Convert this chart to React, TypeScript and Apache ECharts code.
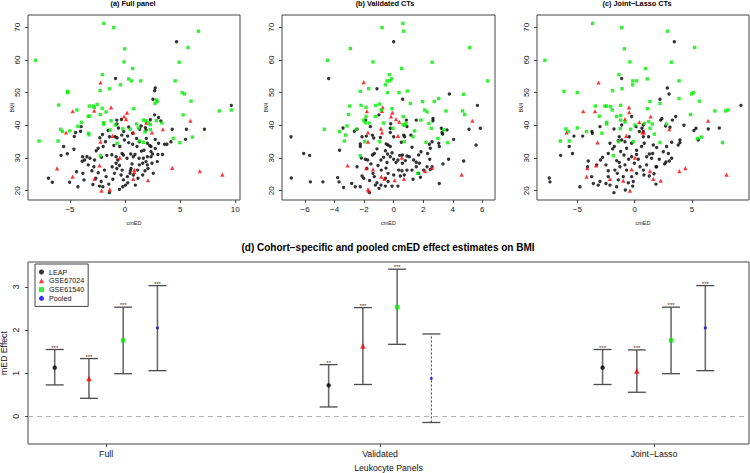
import React, { useEffect, useRef } from "react";
import * as echarts from "echarts";

// ---------- Scatter data: [cmED, BMI] ----------
const fullLeap: number[][] = [[4.67,65.6],[-0.87,54.3],[9.64,46.1],[2.74,51.4],[2.68,50.6],[2.53,48.0],[2.68,43.2],[3.04,42.4],[3.25,41.3],[2.29,41.7],[1.84,39.3],[1.45,39.8],[1.33,38.8],[7.2,38.8],[5.57,38.8],[4.28,38.8],[-0.75,41.6],[-0.75,40.4],[-0.33,41.8],[-0.6,39.2],[-0.12,38.1],[0.33,39.5],[1.9,38.6],[-3.98,39.6],[-4.04,38.2],[-4.49,37.8],[-4.61,36.6],[-5.57,33.5],[-5.81,30.8],[-5.24,31.3],[-4.64,32.7],[-1.54,38.4],[-1.42,36.5],[-0.9,36.5],[-0.72,36.2],[-0.3,37.0],[0.24,36.7],[0.69,37.6],[1.05,36.0],[1.3,35.0],[2.02,34.5],[2.23,33.8],[2.35,33.5],[3.04,34.5],[3.58,34.2],[3.8,34.2],[4.16,35.0],[5.48,35.7],[2.74,35.7],[1.93,36.0],[-2.29,36.2],[-2.05,37.2],[-1.99,33.5],[-2.44,33.0],[-2.62,32.2],[-3.86,30.4],[-3.67,29.4],[-3.89,29.0],[-3.46,30.4],[-3.19,29.9],[-2.77,29.4],[-2.14,30.2],[-1.66,30.8],[-1.2,31.0],[-0.81,30.4],[-0.66,29.4],[-0.27,31.4],[-0.15,30.9],[0.18,29.9],[0.51,31.2],[0.75,30.4],[0.9,31.1],[1.27,29.9],[1.66,29.9],[1.9,28.9],[2.02,30.4],[2.35,30.4],[2.5,31.2],[2.98,31.1],[2.92,28.9],[2.44,28.4],[2.02,27.9],[2.35,32.0],[2.74,32.9],[3.4,31.1],[1.48,32.1],[1.72,32.4],[1.08,33.5],[0.69,34.2],[0.33,34.7],[-0.06,35.5],[-0.48,33.5],[-1.02,33.8],[-1.78,35.0],[-2.83,27.3],[-3.01,26.1],[-3.34,27.9],[-3.83,25.3],[-3.73,23.3],[-4.4,25.8],[-4.28,21.2],[-5.03,22.6],[-6.6,22.6],[-6.96,23.8],[-2.92,21.9],[-2.65,23.8],[-2.44,25.5],[-1.87,26.3],[-1.72,24.3],[-2.17,22.8],[-2.32,21.4],[-2.02,21.2],[-1.42,19.4],[-1.48,22.0],[-1.11,23.5],[-0.96,25.3],[-0.75,26.8],[-0.81,28.4],[-1.17,27.3],[-0.51,27.7],[-0.27,26.3],[-0.36,24.8],[-0.15,23.3],[0.03,21.7],[-0.21,21.2],[0.24,22.4],[0.21,24.3],[0.45,25.3],[0.54,26.8],[0.63,28.2],[-0.51,20.4],[0.93,21.7],[1.17,23.8],[1.6,24.8],[1.81,26.1],[1.14,26.3],[1.3,27.9],[1.6,28.4],[2.56,25.3],[2.08,26.8],[0.48,26.1],[0.75,24.8]];
const fullGse67024: number[][] = [[-2.23,53.1],[-4.76,44.3],[-1.27,45.5],[-2.8,44.5],[0.18,43.9],[-0.09,42.7],[0.09,41.9],[1.93,40.8],[5.93,41.4],[-5.36,37.8],[-1.14,36.8],[0.75,37.8],[2.44,37.8],[3.43,38.8],[-2.23,35.0],[-0.48,30.1],[-2.32,27.7],[-6.17,26.8],[0.84,26.4],[0.84,25.7],[4.28,27.0],[6.78,26.0],[8.83,24.9],[-4.76,24.3],[-2.77,23.6],[0.75,23.6],[2.08,23.2],[-1.39,20.4],[-2.14,20.0]];
const fullGse61540: number[][] = [[-1.93,71.2],[-1.02,69.9],[-8.13,59.9],[-0.03,63.4],[-0.09,59.4],[0.69,57.4],[5.72,63.8],[6.66,68.8],[-2.05,55.5],[4.91,59.3],[0.33,54.2],[0.57,53.6],[1.42,53.6],[4.55,53.6],[-0.42,52.4],[-1.42,51.2],[-2.26,50.6],[-5.21,50.4],[-5.21,50.0],[5.18,50.0],[5.39,49.6],[5.99,47.4],[-6.02,46.2],[-2.53,46.4],[-2.86,45.9],[-3.25,45.9],[-2.8,45.5],[-2.08,45.2],[-4.37,44.7],[0.78,45.1],[2.83,47.8],[2.92,47.3],[2.71,46.7],[-2.26,43.3],[-1.72,44.1],[-3.34,42.8],[-3.22,42.8],[-3.95,40.9],[-4.28,39.7],[-5.03,38.3],[-5.84,38.8],[-5.69,38.1],[-3.31,37.6],[-3.28,37.1],[-1.93,40.8],[-1.93,40.4],[-0.9,40.1],[-1.27,41.4],[1.66,41.6],[1.9,41.4],[2.14,40.8],[-0.21,38.9],[0.48,38.8],[1.05,40.4],[1.2,39.2],[1.81,38.0],[2.29,40.2],[2.29,38.7],[3.34,40.7],[2.83,41.4],[-1.36,38.6],[-0.72,34.5],[1.3,35.2],[1.66,34.8],[4.37,36.0],[4.97,34.7],[6.11,36.4],[8.55,44.4],[9.64,44.7],[5.27,43.2],[-7.8,35.2],[-6.08,35.2],[-2.23,30.7]];

const valLeap: number[][] = [[0,65.6],[-4.4,54.3],[-1.13,51.2],[0.61,48.0],[5.67,46.1],[3.77,49.6],[-6.95,36.5],[-6.09,31.4],[-5.69,30.8],[-6.93,23.9],[-5.64,22.7],[-4.79,22.7],[-3.79,24.0],[-3.7,22.7],[-3.66,32.4],[-3.43,39.2],[-2.66,38.2],[-2.48,38.8],[-2.84,22.2],[-3.39,21.0],[-2.26,21.2],[-2.48,27.3],[-2.19,30.0],[-2.26,33.5],[-2.26,34.3],[-2.14,36.5],[-1.85,36.7],[-1.9,41.6],[-1.58,39.6],[-1.44,37.0],[-1.35,36.1],[-1.76,29.4],[-1.92,29.6],[-1.44,30.9],[-1.54,28.2],[-1.4,25.3],[-1.31,24.3],[-1.24,21.7],[-1.13,22.4],[-0.99,20.7],[-1.63,23.1],[-1.63,19.4],[-0.86,29.4],[-0.68,30.2],[-1.06,27.7],[-0.84,26.3],[-0.52,26.9],[-0.45,28.6],[-0.41,31.2],[-0.56,32.2],[-0.5,34.3],[-0.38,34.0],[-0.23,33.5],[-0.11,31.6],[-0.23,30.4],[0,29.6],[0.16,28.6],[0.29,29.4],[0.41,30.8],[0.59,30.9],[0.59,28.4],[0.79,29.2],[0.9,30.6],[1.24,33.3],[1.06,30.4],[1.35,29.4],[1.53,28.7],[1.69,30.9],[1.85,31.9],[1.74,28.4],[1.53,27.3],[1.24,26.3],[0.9,26.3],[0.56,26.1],[0.34,26.3],[0.72,24.8],[0.45,24.5],[0,24.8],[-0.38,25.3],[-0.56,23.8],[-0.38,22.8],[-0.11,21.4],[-0.56,21.4],[-0.86,21.7],[0.29,21.4],[1.31,23.5],[1.81,24.1],[1.69,25.3],[2.03,26.3],[2.26,27.3],[2.48,26.5],[2.44,29.6],[2.3,31.4],[2.48,33.0],[2.42,34.2],[2.6,35.0],[3.05,34.5],[3.09,33.5],[3.23,39.1],[3.32,37.3],[3.61,38.6],[3.72,29.6],[3.34,28.2],[2.6,27.3],[3.09,22.2],[4.06,35.7],[4.74,29.1],[5.58,34.0],[5.87,39.1],[3.27,37.8],[2.66,42.1],[2.66,41.4],[1.53,41.6],[0.86,41.6],[0.9,39.6],[0.68,37.0],[0.74,36.5],[1.17,37.0],[0.52,34.8],[-0.23,37.8],[0,36.5],[-0.23,39.1],[-0.9,36.3],[-1.13,32.8],[-1.31,31.4],[-1.81,26.8],[-2.14,24.5],[-2.03,23.8],[-2.6,21.2],[5.1,38.8],[-1.0,43.2],[-0.2,40.5]];
const valGse67024: number[][] = [[-2.03,53.2],[-1.81,44.3],[-0.74,45.5],[-0.79,44.4],[-0.09,43.9],[-0.18,42.7],[0.16,41.9],[0.38,41.1],[-0.86,39.0],[-0.79,37.8],[-1.74,37.8],[-1.74,35.0],[5.33,41.4],[0.29,36.8],[-3.12,27.7],[-1.85,26.9],[-1.4,26.5],[2.14,26.0],[2.6,27.0],[4.6,24.9],[-0.84,24.3],[-0.63,23.6],[0.07,23.2],[0.7,23.6],[-1.74,20.4],[-1.69,20.0],[0.56,30.1]];
const valGse61540: number[][] = [[0.63,71.2],[0.68,68.8],[-0.79,69.9],[-2.93,63.5],[5.15,63.8],[-4.47,59.9],[-1.4,59.4],[0.54,57.4],[2.6,59.3],[-0.29,55.5],[-0.45,53.6],[-0.27,53.6],[-0.14,54.2],[-0.56,52.4],[6.37,53.6],[-2.26,50.4],[-1.69,51.2],[0.36,50.0],[0.93,50.5],[-0.41,50.0],[4.74,49.5],[1.96,47.3],[2.75,47.3],[3.05,48.2],[1.13,46.7],[-2.98,45.9],[-2.21,46.1],[-1.22,46.1],[-0.95,46.5],[-1.87,45.5],[-0.11,45.1],[-0.84,44.7],[-3.05,43.3],[2.1,44.7],[2.26,44.1],[3.54,44.4],[4.67,44.4],[4.81,43.3],[-1.87,42.7],[-1.24,42.7],[0.65,42.7],[-2.03,41.6],[-1.92,40.8],[-1.67,40.7],[-0.68,40.7],[-0.05,39.1],[0.65,40.2],[0.74,40.0],[0.84,40.6],[1.85,41.6],[2.39,40.6],[2.55,39.1],[3.39,38.6],[-3.16,39.8],[-3.66,38.1],[-4.7,38.8],[-2.53,38.8],[-3.25,37.0],[-1.96,35.0],[-3.34,35.2],[-2.26,30.7],[-0.95,35.0],[0.72,35.0],[1.42,38.3],[1.31,36.5],[2.19,34.8],[3.0,36.0],[3.66,34.7],[1.63,25.3]];

const jlLeap: number[][] = [[3.46,65.6],[-1.13,54.3],[9.27,46.1],[2.85,51.4],[3.0,49.6],[2.21,48.0],[3.58,42.7],[3.29,41.6],[2.7,39.8],[2.38,42.1],[2.27,41.6],[4.3,40.0],[5.35,39.1],[5.17,38.4],[6.42,38.9],[7.38,39.2],[5.55,35.5],[3.08,39.4],[3.95,35.5],[3.95,34.7],[3.8,34.0],[3.23,34.8],[2.79,33.5],[2.94,31.4],[3.23,29.9],[3.02,29.1],[2.62,28.2],[2.5,31.9],[2.15,29.6],[1.86,27.3],[1.92,33.2],[1.63,34.0],[1.22,36.5],[0.76,36.5],[0.76,40.1],[0.76,38.1],[0.41,38.1],[0.64,39.1],[0.12,39.6],[-0.26,42.7],[-1.13,40.1],[-1.8,38.9],[-1.34,36.5],[-1.42,35.3],[-1.13,35.5],[-0.84,35.0],[-0.26,34.5],[-0.7,33.0],[-1.22,32.0],[-1.77,33.5],[-2.15,34.5],[-1.92,32.8],[-2.3,31.4],[-2.79,30.2],[-2.97,29.4],[-3.31,27.9],[-4.04,29.1],[-4.1,27.3],[-4.53,36.7],[-3.72,38.1],[-3.69,37.6],[-3.02,39.6],[-5.29,36.7],[-5.7,33.5],[-5.41,31.4],[-6.45,30.8],[-7.44,23.9],[-7.38,22.7],[-4.77,21.2],[-3.75,24.3],[-3.6,22.2],[-3.02,22.8],[-3.17,21.7],[-2.5,22.2],[-2.3,24.3],[-2.15,21.7],[-1.8,19.4],[-1.57,21.2],[-1.42,23.3],[-1.51,25.3],[-1.28,27.3],[-1.34,28.6],[-0.84,27.9],[-0.7,26.3],[-0.52,29.6],[-0.26,30.4],[-0.03,28.4],[0.17,31.1],[0.32,29.6],[0.47,27.3],[0.76,26.3],[1.05,30.4],[1.28,31.2],[1.48,29.9],[1.57,31.4],[1.05,27.9],[0.81,24.8],[1.28,24.5],[1.69,25.2],[1.92,27.3],[2.73,28.8],[1.86,22.0],[0.17,25.3],[-0.26,24.3],[-0.12,22.8],[-0.17,21.4],[-0.81,20.2],[-0.55,22.4],[-0.99,24.3],[-1.72,26.3],[-2.5,27.9],[-2.3,26.1],[-0.47,36.5],[-0.93,30.9],[-1.57,29.2],[0.17,32.4],[0.61,33.5],[0.84,34.5]];
const jlGse67024: number[][] = [[-3.14,53.1],[-4.48,44.3],[-0.49,45.5],[-3.46,44.3],[-0.47,44.0],[-0.84,41.9],[0.41,41.0],[1.4,42.7],[6.4,41.4],[-5.93,37.8],[0.67,37.8],[0.81,37.8],[3.02,38.8],[-3.23,34.8],[-0.73,36.8],[0.03,30.1],[-3.37,27.7],[-4.13,26.9],[-0.26,26.5],[1.34,26.0],[3.9,26.0],[4.42,26.9],[8.02,24.9],[-4.19,24.3],[-2.15,23.6],[-0.99,23.1],[1.63,23.6],[2.27,23.1],[-0.41,20.0]];
const jlGse61540: number[][] = [[-3.66,71.2],[-1.13,69.9],[2.88,68.8],[-0.9,63.4],[-7.82,59.9],[-0.41,59.4],[3.2,59.3],[5.23,63.8],[0.96,57.4],[-1.37,55.5],[1.1,54.2],[-0.17,53.6],[0.17,53.6],[3.87,53.6],[-0.17,52.4],[-1.1,51.2],[-6.16,50.4],[-5.0,50.0],[-1.92,50.6],[4.97,49.6],[5.12,50.0],[5.64,47.4],[3.87,48.2],[2.21,46.7],[1.34,47.3],[-3.43,45.9],[-2.59,45.9],[-2.44,45.9],[-2.09,45.7],[-1.95,44.7],[-1.22,46.1],[1.13,45.1],[7.0,44.4],[7.94,44.4],[8.14,44.7],[4.88,43.3],[-3.08,42.8],[-1.57,42.7],[-1.22,43.0],[-0.84,41.0],[-1.22,41.6],[-2.44,40.9],[-2.44,40.4],[0.03,40.1],[0.84,40.6],[1.22,41.1],[1.54,40.4],[2.79,40.4],[-5.0,39.2],[-1.25,39.0],[-0.35,38.8],[1.34,39.1],[-5.99,38.9],[-5.78,38.1],[-4.19,38.1],[-2.85,37.6],[1.72,37.3],[-1.4,35.0],[-6.48,35.2],[-5.7,35.2],[-0.12,35.0],[2.21,34.7],[5.47,36.0],[5.84,36.4],[7.67,34.7],[-1.86,30.7]];

// ---------- Effect estimates ----------
const panelNames = ["Full", "Validated", "Joint\u2212Lasso"];
const cohortNames = ["LEAP", "GSE67024", "GSE61540", "Pooled"];
const leapEst = [1.13, 0.72, 1.13];
const leapLo = [0.73, 0.22, 0.74];
const leapHi = [1.55, 1.2, 1.55];
const gse67024Est = [0.88, 1.63, 1.05];
const gse67024Lo = [0.42, 0.74, 0.56];
const gse67024Hi = [1.34, 2.52, 1.54];
const gse61540Est = [1.76, 2.53, 1.76];
const gse61540Lo = [0.99, 1.67, 0.99];
const gse61540Hi = [2.53, 3.41, 2.53];
const pooledEst = [2.05, 0.88, 2.05];
const pooledLo = [1.06, -0.14, 1.06];
const pooledHi = [3.03, 1.91, 3.03];
const leapStars = ["***", "**", "***"];
const gse67024Stars = ["***", "***", "***"];
const gse61540Stars = ["***", "***", "***"];
const pooledStars = ["***", "", "***"];
const effectTicks = [0, 1, 2, 3];

const FONT = "Liberation Sans, Arial, Helvetica, sans-serif";
const minus = (v: number) => (v < 0 ? "\u2212" + Math.abs(v) : String(v));

export default function App() {
  const ref = useRef<HTMLDivElement>(null);
  useEffect(() => {
    if (!ref.current) return;
    const chart = echarts.init(ref.current, null, { renderer: "svg" });

    const topGrids = [
      { left: 28, width: 212, top: 15, height: 185 },
      { left: 282, width: 213, top: 15, height: 185 },
      { left: 537, width: 212, top: 15, height: 185 },
    ];
    const xRanges = [
      { min: -8.81, max: 10.43, ticks: [-5, 0, 5, 10] },
      { min: -7.56, max: 6.86, ticks: [-6, -4, -2, 0, 2, 4, 6] },
      { min: -8.51, max: 9.97, ticks: [-5, 0, 5] },
    ];
    const bmiTicks = [20, 30, 40, 50, 60, 70];

    const grids: any[] = topGrids.map((g) => ({ ...g, show: true, borderColor: "#444", borderWidth: 1, backgroundColor: "transparent", containLabel: false, outerBoundsMode: "none" }));
    grids.push({ left: 28, width: 721, top: 262, height: 182, show: true, borderColor: "#444", borderWidth: 1, containLabel: false, outerBoundsMode: "none" });

    const xAxes: any[] = xRanges.map((r, i) => ({
      type: "value", gridIndex: i, min: r.min, max: r.max,
      name: "cmED", nameLocation: "middle", nameGap: 20, nameMoveOverlap: false,
      nameTextStyle: { fontFamily: FONT, fontSize: 5.5, color: "#222" },
      axisLine: { show: false, onZero: false },
      splitLine: { show: false },
      axisTick: { show: true, length: 3, customValues: r.ticks, lineStyle: { color: "#444" } },
      axisLabel: { customValues: r.ticks, formatter: (v: number) => minus(v), fontFamily: FONT, fontSize: 8, color: "#111", margin: 5 },
    }));
    const yAxes: any[] = [0, 1, 2].map((i) => ({
      type: "value", gridIndex: i, min: 17.15, max: 73.76,
      name: "BMI", nameLocation: "middle", nameGap: 13, nameMoveOverlap: false,
      nameTextStyle: { fontFamily: FONT, fontSize: 5.5, color: "#222" },
      axisLine: { show: false, onZero: false },
      splitLine: { show: false },
      axisTick: { show: true, length: 3, customValues: bmiTicks, lineStyle: { color: "#444" } },
      axisLabel: { customValues: bmiTicks, rotate: 90, fontFamily: FONT, fontSize: 8, color: "#111", margin: 7 },
    }));

    xAxes.push({
      type: "value", gridIndex: 3, min: 0.715, max: 3.347,
      name: "Leukocyte Panels", nameLocation: "middle", nameGap: 19.5, nameMoveOverlap: false,
      nameTextStyle: { fontFamily: FONT, fontSize: 8.7, color: "#111" },
      axisLine: { show: false, onZero: false }, splitLine: { show: false },
      axisTick: { show: true, length: 3, customValues: [1, 2, 3], lineStyle: { color: "#444" } },
      axisLabel: { customValues: [1, 2, 3], formatter: (v: number) => panelNames[Math.round(v) - 1] || "", fontFamily: FONT, fontSize: 8.7, color: "#111", margin: 5 },
    });
    yAxes.push({
      type: "value", gridIndex: 3, min: -0.638, max: 3.576,
      name: "mED Effect", nameLocation: "middle", nameGap: 20, nameMoveOverlap: false,
      nameTextStyle: { fontFamily: FONT, fontSize: 8.7, color: "#111", lineHeight: 9 },
      axisLine: { show: false, onZero: false }, splitLine: { show: false },
      axisTick: { show: true, length: 3, customValues: effectTicks, lineStyle: { color: "#444" } },
      axisLabel: { customValues: effectTicks, rotate: 90, fontFamily: FONT, fontSize: 8.7, color: "#111", margin: 8 },
    });

    const scatterSets = [
      [fullLeap, fullGse67024, fullGse61540],
      [valLeap, valGse67024, valGse61540],
      [jlLeap, jlGse67024, jlGse61540],
    ];
    const styles = [
      { symbol: "circle", size: 3.4, color: "#000000" },
      { symbol: "triangle", size: 4.2, color: "#ff0000" },
      { symbol: "rect", size: 3.4, color: "#00ee00" },
    ];
    const series: any[] = [];
    scatterSets.forEach((sets, gi) => {
      sets.forEach((data, k) => {
        series.push({
          type: "scatter", name: cohortNames[k] + " " + gi, xAxisIndex: gi, yAxisIndex: gi,
          data, symbol: styles[k].symbol, symbolSize: styles[k].size,
          itemStyle: { color: styles[k].color }, silent: true, z: k === 0 ? 2 : 3,
        });
      });
    });

    // bottom panel
    const offsets = [-0.1875, -0.0625, 0.0625, 0.1875];
    const ests = [leapEst, gse67024Est, gse61540Est, pooledEst];
    const los = [leapLo, gse67024Lo, gse61540Lo, pooledLo];
    const his = [leapHi, gse67024Hi, gse61540Hi, pooledHi];
    const stars = [leapStars, gse67024Stars, gse61540Stars, pooledStars];
    const barData: number[][] = [];
    const barStars: string[] = [];
    const barDashed: boolean[] = [];
    for (let p = 0; p < 3; p++) {
      for (let k = 0; k < 4; k++) {
        barData.push([p + 1 + offsets[k], los[k][p], his[k][p]]);
        barStars.push(stars[k][p]);
        barDashed.push(los[k][p] < 0);
      }
    }
    series.push({
      type: "custom", name: "bars", xAxisIndex: 3, yAxisIndex: 3, silent: true, z: 1,
      data: barData,
      renderItem: (params: any, api: any) => {
        const x = api.value(0), lo = api.value(1), hi = api.value(2);
        const pLo = api.coord([x, lo]);
        const pHi = api.coord([x, hi]);
        const hw = 9;
        const st = { stroke: "#4a4a4a", lineWidth: 1.3 };
        const dashed = barDashed[params.dataIndex];
        return {
          type: "group",
          children: [
            { type: "line", shape: { x1: pLo[0], y1: pLo[1], x2: pHi[0], y2: pHi[1] }, style: { stroke: dashed ? "#333" : "#6a6a6a", lineWidth: dashed ? 1 : 1.6, lineDash: dashed ? [2, 2] : null } },
            { type: "line", shape: { x1: pLo[0] - hw, y1: pLo[1], x2: pLo[0] + hw, y2: pLo[1] }, style: st },
            { type: "line", shape: { x1: pHi[0] - hw, y1: pHi[1], x2: pHi[0] + hw, y2: pHi[1] }, style: st },
            { type: "text", x: pHi[0], y: pHi[1] + 1, style: { text: barStars[params.dataIndex], fontSize: 6, fontFamily: FONT, fill: "#333", align: "center", verticalAlign: "bottom" } },
          ],
        };
      },
    });
    const ptStyles = [
      { symbol: "circle", size: 4.5, color: "#000000" },
      { symbol: "triangle", size: 5.5, color: "#ff0000" },
      { symbol: "rect", size: 4.5, color: "#00ee00" },
      { symbol: "circle", size: 3, color: "#0000ff" },
    ];
    for (let k = 0; k < 4; k++) {
      series.push({
        type: "scatter", name: cohortNames[k], xAxisIndex: 3, yAxisIndex: 3, silent: true, z: 4,
        data: [0, 1, 2].map((p) => [p + 1 + offsets[k], ests[k][p]]),
        symbol: ptStyles[k].symbol, symbolSize: ptStyles[k].size,
        itemStyle: { color: ptStyles[k].color },
        markLine: k === 0 ? {
          silent: true, symbol: "none", label: { show: false },
          lineStyle: { type: [5, 4], color: "#b0b0b0", width: 1 },
          data: [{ yAxis: 0 }],
        } : undefined,
      });
    }

    const titleStyle = { fontFamily: FONT, fontSize: 7.3, fontWeight: "bold", color: "#000" };
    chart.setOption({
      animation: false,
      backgroundColor: "#ffffff",
      title: [
        { text: "(a) Full panel", left: 133, top: 0, textAlign: "center", padding: 0, textStyle: titleStyle },
        { text: "(b) Validated CTs", left: 385, top: 0, textAlign: "center", padding: 0, textStyle: titleStyle },
        { text: "(c) Joint\u2212Lasso CTs", left: 637, top: 0, textAlign: "center", padding: 0, textStyle: titleStyle },
        { text: "(d) Cohort\u2212specific and pooled cmED effect estimates on BMI", left: 388, top: 242, textAlign: "center", padding: 0, textStyle: { fontFamily: FONT, fontSize: 10, fontWeight: "bold", color: "#000" } },
      ],
      legend: {
        orient: "vertical", left: 35, top: 264, padding: [4, 4, 4, 4],
        borderColor: "#444", borderWidth: 1, backgroundColor: "#fff",
        itemWidth: 5, itemHeight: 5, itemGap: 0.8, itemTextGap: 4,
        textStyle: { fontFamily: FONT, fontSize: 7.2, color: "#111", lineHeight: 8 },
        data: [
          { name: "LEAP", icon: "circle" },
          { name: "GSE67024", icon: "triangle" },
          { name: "GSE61540", icon: "rect" },
          { name: "Pooled", icon: "circle" },
        ],
        selectedMode: false,
      },
      grid: grids,
      xAxis: xAxes,
      yAxis: yAxes,
      series,
    });
    return () => chart.dispose();
  }, []);
  return <div ref={ref} style={{ width: 750, height: 473, position: "absolute", left: 0, top: 0 }} />;
}
